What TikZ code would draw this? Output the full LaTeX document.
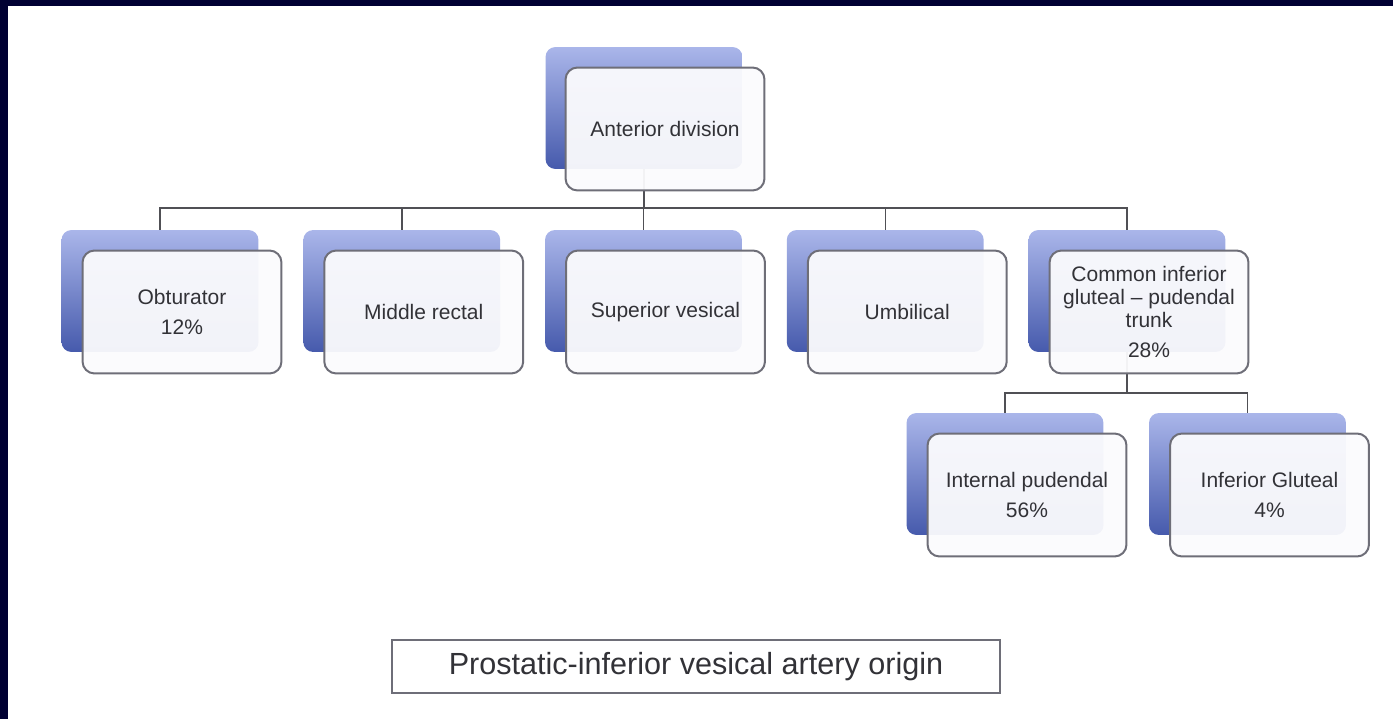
\documentclass[tikz,border=0pt]{standalone}
\usepackage{fontspec}
\setmainfont{Liberation Sans}
\definecolor{frnavy}{RGB}{0,0,51}
\definecolor{bktop}{RGB}{170,182,234}
\definecolor{bkbot}{RGB}{70,90,172}
\definecolor{frfill}{RGB}{251,251,253}
\definecolor{frline}{RGB}{110,110,120}
\definecolor{lnkgray}{RGB}{80,80,85}
\definecolor{txtgray}{RGB}{50,50,55}
\usetikzlibrary{positioning,calc}

\begin{document}
\begin{tikzpicture}[x=0.02cm, y=-0.02cm,
  backbox/.style={rounded corners=0.2cm, top color=bktop, bottom color=bkbot, draw=none, inner sep=0pt, minimum width=3.94cm, minimum height=2.44cm},
  frontbox/.style={rounded corners=0.24cm, draw=frline, line width=0.04cm, fill=frfill, fill opacity=0.95, text opacity=1, text=txtgray, align=center, inner sep=0pt, minimum width=3.98cm, minimum height=2.46cm, font=\fontsize{11.95}{13.1}\selectfont},
  link/.style={draw=lnkgray, line width=0.03cm},
  capbox/.style={draw=frline, line width=0.03cm, fill=white, minimum width=12.16cm, minimum height=1.06cm, text=txtgray, font=\fontsize{17.4}{20}\selectfont}]
  \useasboundingbox (0,0) rectangle (1393,719);

  % dark frame on top and left
  \fill[frnavy] (0,0) rectangle (1393,6);
  \fill[frnavy] (0,0) rectangle (8,719);

  % back shapes
  \node[backbox] (antb) at (644,108) {};
  \node[backbox] (obtb) at (160,291) {};
  \node[backbox] (midb) at (401.75,291) {};
  \node[backbox] (supb) at (643.5,291) {};
  \node[backbox] (umbb) at (885.25,291) {};
  \node[backbox] (comb) at (1127,291) {};
  \node[backbox] (intb) at (1005,474) {};
  \node[backbox] (infb) at (1247.5,474) {};

  % connectors
  \coordinate (bus1) at (0,208);
  \coordinate (bus2) at (0,393);
  \foreach \c in {obtb,midb,supb,umbb,comb}
    \draw[link] (antb.south) |- (bus1 -| \c.north) -- (\c.north);
  \foreach \c in {intb,infb}
    \draw[link] (comb.south) |- (bus2 -| \c.north) -- (\c.north);

  % front shapes with labels
  \node[frontbox] (ant) at (665,129) {Anterior division};
  \node[frontbox] (obt) at (182,312) {Obturator\\[0.14cm]12\%};
  \node[frontbox] (mid) at (423.75,312) {Middle rectal};
  \node[frontbox] (sup) at (665.5,312) {Superior vesical};
  \node[frontbox] (umb) at (907.25,312) {Umbilical};
  \node[frontbox] (com) at (1149,312) {Common inferior\\gluteal – pudendal\\trunk\\[0.14cm]28\%};
  \node[frontbox] (int) at (1027,495) {Internal pudendal\\[0.14cm]56\%};
  \node[frontbox] (inf) at (1269.5,495) {Inferior Gluteal\\[0.14cm]4\%};

  % caption
  \node[capbox] (cap) at (696,666.5) {Prostatic-inferior vesical artery origin};
\end{tikzpicture}
\end{document}
